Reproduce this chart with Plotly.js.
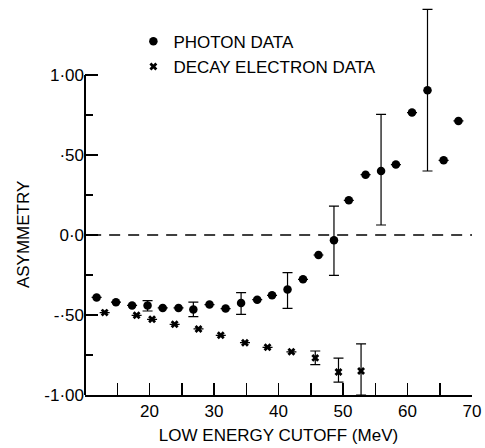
<!DOCTYPE html>
<html>
<head>
<meta charset="utf-8">
<script src="https://cdn.plot.ly/plotly-3.0.1.min.js"></script>
<style>html,body{margin:0;padding:0;background:#fff;}#chart{width:485px;height:448px;}</style>
</head>
<body>
<div id="chart"></div>
<script>
// Photon data
const photonX = [11.8, 14.8, 17.3, 19.7, 22.05, 24.5, 26.8, 29.3, 31.8, 34.2, 36.7, 39.0, 41.4, 43.8, 46.2, 48.6, 50.9, 53.5, 55.9, 58.2, 60.7, 63.1, 65.6, 67.9];
const photonY = [-0.39, -0.42, -0.44, -0.44, -0.456, -0.456, -0.466, -0.435, -0.46, -0.425, -0.404, -0.377, -0.34, -0.277, -0.125, -0.033, 0.217, 0.377, 0.40, 0.44, 0.765, 0.904, 0.467, 0.713];
const photonErrPlus  = [null, null, null, 0.03, null, null, 0.046, null, null, 0.065, null, null, 0.105, null, null, 0.213, null, null, 0.354, null, null, 0.506, null, null];
const photonErrMinus = [null, null, null, 0.035, null, null, 0.044, null, null, 0.071, null, null, 0.118, null, null, 0.219, null, null, 0.3375, null, null, 0.504, null, null];

// Decay electron data
const electronX = [13.05, 18.0, 20.4, 23.9, 27.6, 31.05, 34.8, 38.3, 42.0, 45.7, 49.3, 52.8];
const electronY = [-0.485, -0.502, -0.527, -0.558, -0.587, -0.627, -0.673, -0.702, -0.73, -0.768, -0.856, -0.85];
const electronErrPlus  = [null, null, null, null, null, null, null, null, null, 0.043, 0.086, 0.17];
const electronErrMinus = [null, null, null, null, null, null, null, null, null, 0.042, 0.064, 0.15];

// Axis ticks
const xTickVals = [15, 20, 25, 30, 35, 40, 45, 50, 55, 60, 65, 70];
const xTickText = ['', '20', '', '30', '', '40', '', '50', '', '60', '', '70'];
const yTickVals = [-1, -0.5, 0, 0.5, 1];
const yTickText = ['-1·00', '-·50', '0·0', '·50', '1·00'];
const yMinorVals = [-0.75, -0.25, 0.25, 0.75];

const FONT = 'Liberation Sans, Arial, sans-serif';
const INK = '#000';

const traces = [
  {
    x: photonX, y: photonY, type: 'scatter', mode: 'markers', name: 'PHOTON DATA',
    marker: {symbol: 'circle', size: 8.5, color: INK},
    error_y: {type: 'data', symmetric: false, array: photonErrPlus, arrayminus: photonErrMinus,
              color: INK, thickness: 1.2, width: 5}
  },
  {
    x: electronX, y: electronY, type: 'scatter', mode: 'markers', name: 'DECAY ELECTRON DATA',
    marker: {symbol: 'x', size: 7, color: INK},
    error_y: {type: 'data', symmetric: false, array: electronErrPlus, arrayminus: electronErrMinus,
              color: INK, thickness: 1.2, width: 5}
  }
];

const layout = {
  width: 485, height: 448,
  margin: {l: 85, r: 13, t: 3, b: 53, pad: 0},
  paper_bgcolor: '#fff', plot_bgcolor: '#fff',
  font: {family: FONT, size: 17, color: INK},
  showlegend: true,
  legend: {x: 0.125, y: 0.947, xanchor: 'left', yanchor: 'top', bgcolor: 'rgba(0,0,0,0)',
           font: {family: FONT, size: 17, color: INK}, itemwidth: 30, tracegroupgap: 0},
  xaxis: {
    range: [10, 70], showgrid: false, zeroline: false,
    showline: true, linecolor: INK, linewidth: 2,
    ticks: 'inside', ticklen: 12, tickwidth: 1.5, tickcolor: INK,
    tickmode: 'array', tickvals: xTickVals, ticktext: xTickText,
    tickfont: {family: FONT, size: 17, color: INK},
    title: {text: 'LOW ENERGY CUTOFF (MeV)', font: {family: FONT, size: 17, color: INK}, standoff: 9}
  },
  yaxis: {
    range: [-1, 1.45], showgrid: false, zeroline: false, showline: false,
    ticks: 'inside', ticklen: 13, tickwidth: 1.5, tickcolor: INK,
    tickmode: 'array', tickvals: yTickVals, ticktext: yTickText,
    tickfont: {family: FONT, size: 17, color: INK},
    minor: {tickmode: 'array', tickvals: yMinorVals, ticks: 'inside', ticklen: 8, tickwidth: 1.5, tickcolor: INK, showgrid: false}
  },
  shapes: [
    {type: 'line', xref: 'paper', x0: 0, x1: 0, yref: 'y', y0: -1, y1: 1, line: {color: INK, width: 2}},
    {type: 'line', xref: 'x', x0: 10.8, x1: 70.5, yref: 'y', y0: 0, y1: 0, line: {color: INK, width: 1.3, dash: '11px,8px'}}
  ],
  annotations: [
    {text: 'ASYMMETRY', xref: 'paper', x: -0.16, yref: 'y', y: 0, xanchor: 'center', yanchor: 'middle',
     textangle: -90, showarrow: false, font: {family: FONT, size: 17, color: INK}}
  ]
};

Plotly.newPlot('chart', traces, layout, {displayModeBar: false, staticPlot: true});
</script>
</body>
</html>
